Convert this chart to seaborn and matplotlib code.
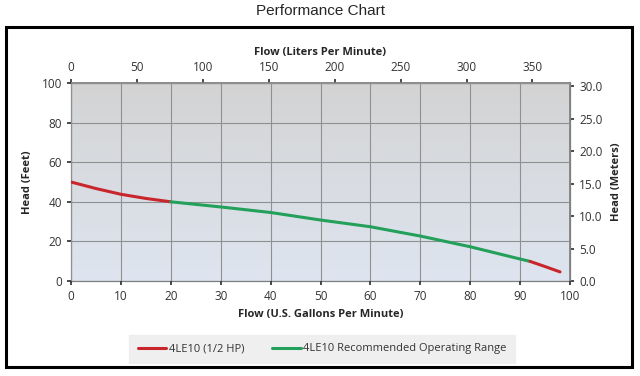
import numpy as np
import pandas as pd
import matplotlib
matplotlib.use("Agg")
import matplotlib.pyplot as plt
import seaborn as sns
from matplotlib.patches import Rectangle
from matplotlib.ticker import MultipleLocator

# curve (flow in US gpm, head in feet)
red_lo_gpm = [0, 5, 10, 15, 20]
red_lo_ft = [50, 46.7, 43.8, 41.7, 40]
green_gpm = [20, 30, 40, 50, 60, 70, 80, 90, 92]
green_ft = [40, 37.4, 34.6, 30.8, 27.4, 22.7, 17.3, 11.1, 9.9]
red_hi_gpm = [92, 95, 98]
red_hi_ft = [9.9, 7.3, 4.6]

red_name = "4LE10 (1/2 HP)"
green_name = "4LE10 Recommended Operating Range"

sns.set_theme(style="white")
plt.rcParams["font.family"] = ["Open Sans", "DejaVu Sans"]

fig = plt.figure(figsize=(6.4, 3.76), dpi=100)
ax = fig.add_axes([71 / 640, 95 / 376, 499 / 640, 198 / 376])

# gradient background
grad = np.linspace(0, 1, 256).reshape(-1, 1)
cmap = matplotlib.colors.LinearSegmentedColormap.from_list("bg", ["#dee5f0", "#d3d3d3"])
ax.imshow(grad, extent=[0, 100, 0, 100], origin="lower", aspect="auto", cmap=cmap, zorder=0)

df_lo = pd.DataFrame({"gpm": red_lo_gpm, "ft": red_lo_ft})
df_g = pd.DataFrame({"gpm": green_gpm, "ft": green_ft})
df_hi = pd.DataFrame({"gpm": red_hi_gpm, "ft": red_hi_ft})
red = "#c8262c"
green = "#23a05a"
sns.lineplot(data=df_lo, x="gpm", y="ft", ax=ax, color=red, lw=2.2, label=red_name, zorder=3)
sns.lineplot(data=df_g, x="gpm", y="ft", ax=ax, color=green, lw=2.2, label=green_name, zorder=3)
sns.lineplot(data=df_hi, x="gpm", y="ft", ax=ax, color=red, lw=2.2, zorder=3)

ax.set_xlim(0, 100)
ax.set_ylim(0, 100)
ax.xaxis.set_major_locator(MultipleLocator(10))
ax.yaxis.set_major_locator(MultipleLocator(20))
ax.grid(True, color="#909090", lw=0.8, zorder=1)
ax.set_axisbelow(False)
for s in ax.spines.values():
    s.set_color("#808080")
    s.set_linewidth(0.9)
ax.tick_params(labelsize=8.5, colors="#333333", length=3, direction="out", left=True, bottom=True)
ax.set_xlabel("Flow (U.S. Gallons Per Minute)", fontsize=8, fontweight="bold", labelpad=4)
ax.set_ylabel("Head (Feet)", fontsize=8, fontweight="bold", labelpad=6)

top = ax.secondary_xaxis("top", functions=(lambda g: g * 3.785, lambda l: l / 3.785))
top.xaxis.set_major_locator(MultipleLocator(50))
top.tick_params(labelsize=8.5, colors="#333333", length=3)
top.set_xlabel("Flow (Liters Per Minute)", fontsize=8, fontweight="bold", labelpad=4)

right = ax.secondary_yaxis("right", functions=(lambda f: f * 0.3048, lambda m: m / 0.3048))
right.yaxis.set_major_locator(MultipleLocator(5))
right.yaxis.set_major_formatter(matplotlib.ticker.FormatStrFormatter("%.1f"))
right.tick_params(labelsize=8.5, colors="#333333", length=3)
right.set_ylabel("Head (Meters)", fontsize=8, fontweight="bold", labelpad=6)
for sp in top.spines.values():
    sp.set_color("#808080")
for sp in right.spines.values():
    sp.set_color("#808080")

ax.legend_.remove()
h, l = ax.get_legend_handles_labels()
leg = fig.legend(h[:2], l[:2], loc="center", bbox_to_anchor=(322 / 640, 1 - 349 / 376), ncol=2,
                 fontsize=8, frameon=True, handlelength=2.6, handletextpad=0.2, columnspacing=2.5,
                 borderpad=0.5)
leg.get_frame().set_facecolor("#ececec")
leg.get_frame().set_edgecolor("#ececec")
leg.get_frame().set_boxstyle("square", pad=0.3)
for t in leg.get_texts():
    t.set_color("#333333")

fig.add_artist(Rectangle((6 / 640, 9 / 376), 626 / 640, 340 / 376, transform=fig.transFigure,
                         fill=False, edgecolor="black", lw=2.2))
fig.text(0.5, 1 - 11 / 376, "Performance Chart", ha="center", va="center", fontsize=11,
         family=["Liberation Sans", "DejaVu Sans"])

fig.savefig("out.png", dpi=100)
